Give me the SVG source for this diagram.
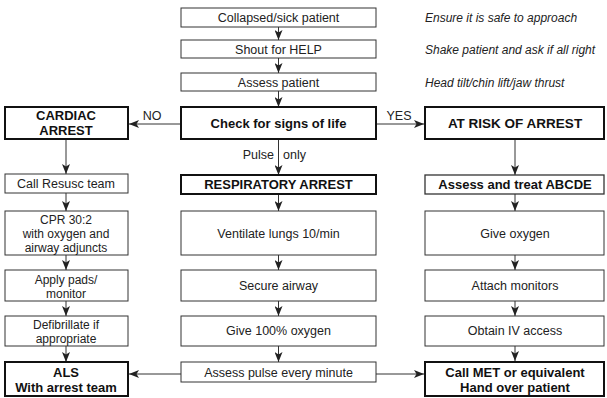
<svg xmlns="http://www.w3.org/2000/svg" width="607" height="398" viewBox="0 0 607 398">
<defs>
<marker id="ah" viewBox="0 0 10 8" refX="10" refY="4" markerWidth="10" markerHeight="8" markerUnits="userSpaceOnUse" orient="auto">
<path d="M0,0 L10,4 L0,8 L2.5,4 z" fill="#222"/>
</marker>
<style>
.b{fill:#fff;stroke:#333;stroke-width:1}
.k{fill:#fff;stroke:#111;stroke-width:2}
.t{font-family:"Liberation Sans",Arial,sans-serif;font-size:12.5px;fill:#222;text-anchor:middle}
.m{font-size:12px}
.tb{font-family:"Liberation Sans",Arial,sans-serif;font-size:13px;font-weight:bold;fill:#111;text-anchor:middle}
.ti{font-family:"Liberation Sans",Arial,sans-serif;font-size:12px;font-style:italic;fill:#222}
.c{stroke:#333;stroke-width:1;fill:none;marker-end:url(#ah)}
</style>
</defs>
<rect width="607" height="398" fill="#fff"/>
<g id="connectors">
<line class="c" x1="278.5" y1="27" x2="278.5" y2="40"/>
<line class="c" x1="278.5" y1="58" x2="278.5" y2="73"/>
<line class="c" x1="278.5" y1="91" x2="278.5" y2="107"/>
<line class="c" x1="181" y1="124" x2="129" y2="124"/>
<line class="c" x1="377" y1="124" x2="424" y2="124"/>
<line class="c" x1="278.5" y1="140" x2="278.5" y2="175"/>
<line class="c" x1="66" y1="140" x2="66" y2="174"/>
<line class="c" x1="66" y1="193" x2="66" y2="211"/>
<line class="c" x1="66" y1="255" x2="66" y2="270"/>
<line class="c" x1="66" y1="301" x2="66" y2="316"/>
<line class="c" x1="66" y1="346" x2="66" y2="362"/>
<line class="c" x1="278.5" y1="194" x2="278.5" y2="211"/>
<line class="c" x1="278.5" y1="255" x2="278.5" y2="270"/>
<line class="c" x1="278.5" y1="301" x2="278.5" y2="316"/>
<line class="c" x1="278.5" y1="346" x2="278.5" y2="362"/>
<line class="c" x1="515" y1="140" x2="515" y2="175"/>
<line class="c" x1="515" y1="194" x2="515" y2="211"/>
<line class="c" x1="515" y1="255" x2="515" y2="270"/>
<line class="c" x1="515" y1="301" x2="515" y2="316"/>
<line class="c" x1="515" y1="346" x2="515" y2="361"/>
<line class="c" x1="181" y1="374" x2="129" y2="374"/>
<line class="c" x1="376" y1="374" x2="424" y2="374"/>
<text class="t" x="152" y="120">NO</text>
<text class="t" x="399" y="120">YES</text>
<text class="t" x="274" y="159" style="text-anchor:end">Pulse</text>
<text class="t" x="283" y="159" style="text-anchor:start">only</text>
</g>
<g id="collapsed"><rect class="b" x="181" y="8" width="195" height="19"/><text class="t" x="278.5" y="22">Collapsed/sick patient</text></g>
<g id="shout"><rect class="b" x="181" y="40" width="195" height="18"/><text class="t" x="278.5" y="54">Shout for HELP</text></g>
<g id="assess"><rect class="b" x="181" y="73" width="195" height="18"/><text class="t" x="278.5" y="87">Assess patient</text></g>
<g id="notes">
<text class="ti" x="425" y="22">Ensure it is safe to approach</text>
<text class="ti" x="425" y="54">Shake patient and ask if all right</text>
<text class="ti" x="425" y="87">Head tilt/chin lift/jaw thrust</text>
</g>
<g id="cardiac"><rect class="k" x="5" y="107" width="123" height="32"/><text class="tb" x="66" y="120">CARDIAC</text><text class="tb" x="66" y="135">ARREST</text></g>
<g id="check"><rect class="k" x="181" y="107" width="195" height="32"/><text class="tb" x="278.5" y="128">Check for signs of life</text></g>
<g id="atrisk"><rect class="k" x="425" y="107" width="179" height="32"/><text class="tb" x="515" y="128" style="font-size:13.5px">AT RISK OF ARREST</text></g>
<g id="callresusc"><rect class="b" x="5" y="174" width="123" height="19"/><text class="t" x="66" y="188">Call Resusc team</text></g>
<g id="resp"><rect class="k" x="181" y="175" width="195" height="19"/><text class="tb" x="278.5" y="189">RESPIRATORY ARREST</text></g>
<g id="abcde"><rect class="b" x="425" y="175" width="179" height="19" style="stroke-width:1.3"/><text class="tb" x="515" y="189">Assess and treat ABCDE</text></g>
<g id="cpr"><rect class="b" x="5" y="211" width="123" height="44"/><text class="t m" x="66" y="223.5">CPR 30:2</text><text class="t m" x="66" y="237.5">with oxygen and</text><text class="t m" x="66" y="251.5">airway adjuncts</text></g>
<g id="ventilate"><rect class="b" x="181" y="211" width="195" height="44"/><text class="t" x="278.5" y="238">Ventilate lungs 10/min</text></g>
<g id="giveoxygen"><rect class="b" x="425" y="211" width="179" height="44"/><text class="t" x="515" y="238">Give oxygen</text></g>
<g id="pads"><rect class="b" x="5" y="270" width="123" height="31"/><text class="t m" x="66" y="283.5">Apply pads/</text><text class="t m" x="66" y="297.5">monitor</text></g>
<g id="airway"><rect class="b" x="181" y="270" width="195" height="31"/><text class="t" x="278.5" y="290">Secure airway</text></g>
<g id="monitors"><rect class="b" x="425" y="270" width="179" height="31"/><text class="t" x="515" y="290">Attach monitors</text></g>
<g id="defib"><rect class="b" x="5" y="316" width="123" height="30"/><text class="t m" x="66" y="329">Defibrillate if</text><text class="t m" x="66" y="343">appropriate</text></g>
<g id="oxy100"><rect class="b" x="181" y="316" width="195" height="30"/><text class="t" x="278.5" y="335">Give 100% oxygen</text></g>
<g id="iv"><rect class="b" x="425" y="316" width="179" height="30"/><text class="t" x="515" y="335">Obtain IV access</text></g>
<g id="als"><rect class="k" x="5" y="362" width="123" height="34"/><text class="tb" x="66" y="377">ALS</text><text class="tb" x="66" y="392">With arrest team</text></g>
<g id="pulse"><rect class="b" x="181" y="362" width="195" height="20"/><text class="t" x="278.5" y="377">Assess pulse every minute</text></g>
<g id="met"><rect class="k" x="425" y="362" width="179" height="34"/><text class="tb" x="515" y="377">Call MET or equivalent</text><text class="tb" x="515" y="392">Hand over patient</text></g>
</svg>
